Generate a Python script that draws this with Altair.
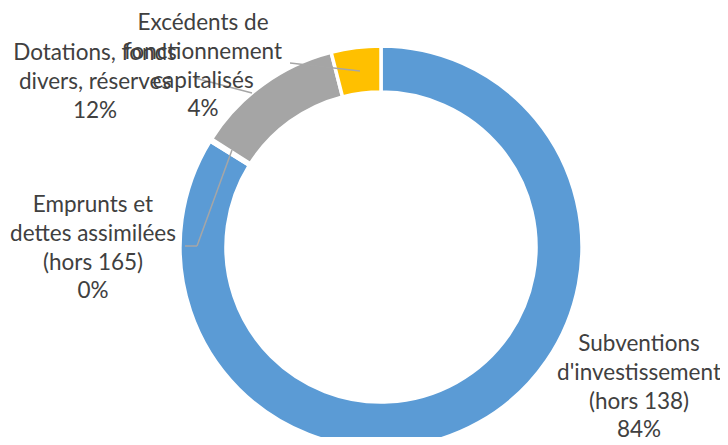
import altair as alt
import pandas as pd

categories = [
    "Subventions d'investissement (hors 138)",
    "Emprunts et dettes assimilées (hors 165)",
    "Dotations, fonds divers, réserves",
    "Excédents de fonctionnement capitalisés",
]
values = [84.0, 0.2, 12.0, 4.0]
pct_labels = ["84%", "0%", "12%", "4%"]
label_lines = [
    ["Subventions", "d'investissement", "(hors 138)"],
    ["Emprunts et", "dettes assimilées", "(hors 165)"],
    ["Dotations, fonds", "divers, réserves"],
    ["Excédents de", "fonctionnement", "capitalisés"],
]
colors = ["#5B9BD5", "#ED7D31", "#A5A5A5", "#FFC000"]

df = pd.DataFrame({"cat": categories, "val": values, "ord": list(range(len(categories)))})

W, H = 712, 429
CX, CY = 373, 239
FONT = "Lato"
FS = 22.5
LH = 28.8
TXT = "#404040"
LINE = "#A6A6A6"

ring = alt.Chart(df).mark_arc(
    outerRadius=201, innerRadius=155, stroke="white", strokeWidth=3.5
).encode(
    theta=alt.Theta("val:Q", stack=True),
    order=alt.Order("ord:Q"),
    color=alt.Color("cat:N", scale=alt.Scale(domain=categories, range=colors), legend=None),
    x=alt.value(CX),
    y=alt.value(CY),
)

# label placements (page layout, not data): centre x, first-line y
label_pos = [(631, 336), (85, 197), (87, 45), (195, 15)]

layers = [ring]

# leader lines: polylines in chart pixel coords
leaders = [
    [(177, 238), (189, 238), (224, 142)],
    [(187, 70), (244, 85)],
    [(282, 55), (352, 63)],
]
for pts in leaders:
    for (x1, y1), (x2, y2) in zip(pts[:-1], pts[1:]):
        layers.append(
            alt.Chart(df.head(1)).mark_rule(color=LINE, strokeWidth=1.5).encode(
                x=alt.value(x1), y=alt.value(y1), x2=alt.value(x2), y2=alt.value(y2)
            )
        )

for i, (lx, ly) in enumerate(label_pos):
    txt = "\n".join(label_lines[i] + [pct_labels[i]])
    layers.append(
        alt.Chart(df.head(1)).mark_text(
            text=txt, lineBreak="\n", lineHeight=LH, font=FONT, fontSize=FS,
            color=TXT, align="center", baseline="middle",
        ).encode(x=alt.value(lx), y=alt.value(ly))
    )

chart = alt.layer(*layers).properties(
    width=W, height=H, padding=0, autosize=alt.AutoSizeParams(type="none")
).configure_view(stroke=None)

chart.save("out.html", embed_options={"renderer": "svg", "actions": False})
